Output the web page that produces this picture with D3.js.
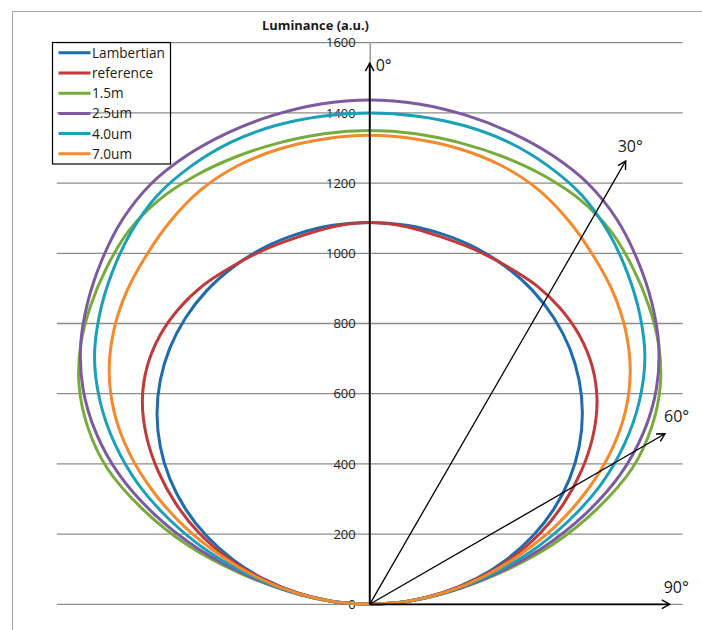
<!DOCTYPE html>
<html>
<head>
<meta charset="utf-8">
<script src="https://cdn.jsdelivr.net/npm/d3@7"></script>
<style>
  html, body { margin: 0; padding: 0; background: #fff; }
  svg { display: block; }
  text { font-family: "Open Sans", "Noto Sans", sans-serif; fill: #1a1a1a; }
</style>
</head>
<body>
<svg id="chart" width="702" height="630"></svg>
<script>
// Emission angle (degrees from the surface normal), one side; the profile is mirrored.
const angles = [0, 5, 10, 15, 20, 25, 30, 35, 40, 45, 50, 55, 60, 65, 70, 75, 80, 85, 90];

// Luminance (a.u.) at each angle, per sample.
const lambertian = [1088, 1084, 1071, 1051, 1022, 986, 942, 891, 833, 769, 699, 624, 544, 460, 372, 282, 189, 95, 0];
const reference  = [1088, 1080, 1062, 1045, 1025, 1004, 974, 935, 885, 822, 745, 660, 572, 482, 387, 290, 193, 95, 0];
const m1_5       = [1350, 1346, 1335, 1320, 1300, 1272, 1230, 1172, 1110, 1045, 970, 880, 775, 640, 498, 345, 210, 100, 0];
const um2_5      = [1437, 1431, 1415, 1392, 1362, 1322, 1265, 1195, 1122, 1045, 957, 855, 740, 608, 470, 330, 205, 98, 0];
const um4_0      = [1400, 1396, 1385, 1364, 1330, 1285, 1222, 1150, 1075, 995, 900, 795, 683, 560, 438, 315, 200, 97, 0];
const um7_0      = [1336, 1331, 1318, 1295, 1258, 1205, 1145, 1085, 1018, 942, 853, 750, 637, 522, 405, 298, 196, 96, 0];

const seriesNames = ["Lambertian", "reference", "1.5m", "2.5um", "4.0um", "7.0um"];
const seriesValues = [lambertian, reference, m1_5, um2_5, um4_0, um7_0];
const seriesColors = ["#1f6baf", "#c0393b", "#77ac3c", "#7d5aa0", "#1aa0b8", "#f5892c"];

const yTicks = [0, 200, 400, 600, 800, 1000, 1200, 1400, 1600];
const angleMarks = [0, 30, 60, 90];
const angleLabels = ["0°", "30°", "60°", "90°"];

// ---- layout ----
const svg = d3.select("#chart");
const plot = { left: 56.8, right: 682.6, top: 42.7, bottom: 604.3 };

const x = d3.scaleLinear().domain([-800, 800]).range([plot.left, plot.right]);
const y = d3.scaleLinear().domain([0, 1600]).range([plot.bottom, plot.top]);

// outer chart frame
svg.append("path")
  .attr("d", "M12.5,630 V11.5 H702")
  .attr("fill", "none").attr("stroke", "#a6a6a6").attr("stroke-width", 1);

// horizontal gridlines
svg.append("g").selectAll("line").data(yTicks).join("line")
  .attr("x1", plot.left).attr("x2", plot.right)
  .attr("y1", d => y(d)).attr("y2", d => y(d))
  .attr("stroke", "#8c8c8c").attr("stroke-width", 1.3);

// vertical value axis through the origin
const axis = d3.axisLeft(y).tickValues(yTicks).tickFormat(d3.format("d")).tickSize(0).tickPadding(14);
const axisG = svg.append("g").attr("transform", `translate(${x(0)},0)`).call(axis);
axisG.select(".domain").attr("stroke", "#8c8c8c").attr("stroke-width", 1.3);
axisG.selectAll("text")
  .style("font-family", "'Open Sans', sans-serif")
  .style("font-size", "13px")
  .attr("fill", "#1a1a1a");

// axis title
svg.append("text")
  .attr("x", 315.5).attr("y", 29.5)
  .attr("text-anchor", "middle")
  .attr("font-size", 13).attr("font-weight", "bold")
  .attr("textLength", 107).attr("lengthAdjust", "spacingAndGlyphs")
  .text("Luminance (a.u.)");

// polar luminance profiles: x = L·sinθ, y = L·cosθ, θ from -90° to 90°
function profile(values) {
  const pts = [];
  for (let i = angles.length - 1; i > 0; i--) pts.push([-angles[i], values[i]]);
  for (let i = 0; i < angles.length; i++) pts.push([angles[i], values[i]]);
  return pts.map(([a, L]) => {
    const r = a * Math.PI / 180;
    return [x(L * Math.sin(r)), y(L * Math.cos(r))];
  });
}
const line = d3.line().curve(d3.curveCatmullRom.alpha(0.5));

svg.append("g").selectAll("path").data(seriesValues).join("path")
  .attr("d", v => line(profile(v)))
  .attr("fill", "none")
  .attr("stroke", (d, i) => seriesColors[i])
  .attr("stroke-width", 3)
  .attr("stroke-linejoin", "round");

// angle reference arrows from the origin
const arrowLen = [541, 512, 341, 300];
const arrowWidth = [1.8, 1.3, 1.3, 1.8];
const labelOffset = [[6, 8], [-8, -9], [-1, -12], [-6, -11]];
const ox = x(0), oy = y(0);
const arrows = svg.append("g");
angleMarks.forEach((a, i) => {
  const r = a * Math.PI / 180;
  const tx = ox + arrowLen[i] * Math.sin(r);
  const ty = oy - arrowLen[i] * Math.cos(r);
  arrows.append("line")
    .attr("x1", ox).attr("y1", oy).attr("x2", tx).attr("y2", ty)
    .attr("stroke", "#000").attr("stroke-width", arrowWidth[i]);
  // open arrowhead
  const head = 9, spread = 0.5;
  const back = Math.atan2(oy - ty, ox - tx);
  const p1 = [tx + head * Math.cos(back + spread), ty + head * Math.sin(back + spread)];
  const p2 = [tx + head * Math.cos(back - spread), ty + head * Math.sin(back - spread)];
  arrows.append("path")
    .attr("d", `M${p1[0]},${p1[1]} L${tx},${ty} L${p2[0]},${p2[1]}`)
    .attr("fill", "none").attr("stroke", "#000").attr("stroke-width", 1.4);
  arrows.append("text")
    .attr("x", tx + labelOffset[i][0]).attr("y", ty + labelOffset[i][1])
    .attr("font-size", 16)
    .text(angleLabels[i]);
});

// legend
const legend = svg.append("g").attr("transform", "translate(52.5,42.5)");
legend.append("rect")
  .attr("width", 118).attr("height", 121.5)
  .attr("fill", "none").attr("stroke", "#000").attr("stroke-width", 1.2);
seriesNames.forEach((name, i) => {
  const cy = 10.3 + i * 20.2;
  legend.append("line")
    .attr("x1", 6).attr("x2", 38).attr("y1", cy).attr("y2", cy)
    .attr("stroke", seriesColors[i]).attr("stroke-width", 3);
  legend.append("text")
    .attr("x", 39.5).attr("y", cy + 5)
    .attr("font-size", 13.6)
    .text(name);
});
</script>
</body>
</html>
